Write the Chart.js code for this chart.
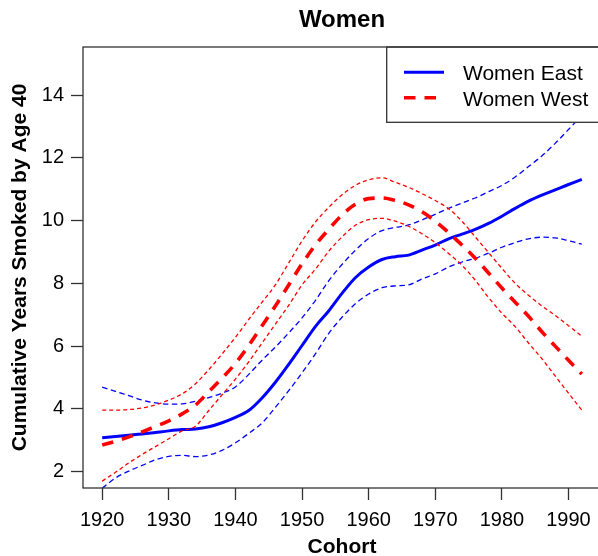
<!DOCTYPE html>
<html>
<head>
<meta charset="utf-8">
<script src="https://cdn.jsdelivr.net/npm/chart.js@4/dist/chart.umd.min.js"></script>
<style>
  html, body { margin: 0; padding: 0; background: #ffffff; overflow: hidden; }
  #wrap { width: 604px; height: 556px; }
</style>
</head>
<body>
<div id="wrap"><canvas id="c" width="604" height="556"></canvas></div>
<script>
// ---- data ----
const chartTitle = "Women";
const xAxisTitle = "Cohort";
const yAxisTitle = "Cumulative Years Smoked by Age 40";
const seriesLabels = ["Women East", "Women West"];
const xTickValues = [1920, 1930, 1940, 1950, 1960, 1970, 1980, 1990];
const yTickValues = [2, 4, 6, 8, 10, 12, 14];

const years = [1920,1922,1924,1926,1928,1930,1932,1934,1936,1938,1940,1942,1944,1946,1948,1950,1952,1954,1956,1958,1960,1962,1964,1966,1968,1970,1972,1974,1976,1978,1980,1982,1984,1986,1988,1990,1992];

const eastMain  = [3.08,3.12,3.16,3.20,3.25,3.30,3.34,3.36,3.43,3.56,3.73,3.95,4.35,4.85,5.42,6.02,6.62,7.12,7.68,8.18,8.52,8.76,8.85,8.90,9.06,9.22,9.42,9.57,9.72,9.91,10.14,10.39,10.62,10.81,10.98,11.15,11.31];
const eastLower = [1.47,1.80,2.02,2.20,2.38,2.49,2.52,2.48,2.53,2.68,2.92,3.22,3.55,4.05,4.58,5.15,5.75,6.40,6.92,7.35,7.66,7.86,7.92,7.95,8.14,8.30,8.52,8.68,8.80,8.96,9.15,9.30,9.42,9.47,9.45,9.36,9.25];
const eastUpper = [4.69,4.56,4.42,4.28,4.19,4.15,4.16,4.24,4.36,4.50,4.70,5.10,5.55,5.97,6.42,6.90,7.45,8.08,8.60,9.05,9.43,9.68,9.78,9.86,10.02,10.20,10.39,10.56,10.72,10.92,11.12,11.39,11.72,12.06,12.46,12.90,13.35];

const westMain  = [2.85,2.97,3.11,3.27,3.44,3.62,3.84,4.12,4.55,4.98,5.45,6.02,6.65,7.28,7.95,8.62,9.22,9.72,10.18,10.52,10.70,10.72,10.64,10.50,10.28,9.98,9.62,9.22,8.80,8.33,7.85,7.40,6.95,6.46,6.00,5.55,5.11];
const westLower = [1.70,1.98,2.28,2.55,2.80,3.05,3.30,3.45,3.95,4.45,4.95,5.50,6.10,6.70,7.30,7.95,8.45,9.02,9.48,9.85,10.03,10.07,9.98,9.82,9.58,9.30,8.95,8.58,8.10,7.55,7.05,6.62,6.10,5.60,5.05,4.50,3.96];
const westUpper = [3.96,3.96,3.98,4.03,4.13,4.28,4.48,4.80,5.25,5.75,6.28,6.85,7.40,7.95,8.65,9.35,9.95,10.42,10.82,11.12,11.30,11.36,11.22,11.06,10.86,10.64,10.38,9.98,9.48,8.98,8.48,8.00,7.62,7.28,6.98,6.65,6.32];

// ---- styling ----
const FONT = "'Liberation Sans', Arial, Helvetica, sans-serif";
const BLUE = "#0000ff";
const RED = "#ff0000";
const AXIS = "#333333";

function pts(vals) { return years.map((x, i) => ({ x: x, y: vals[i] })); }

function ds(label, vals, color, width, dash, order, inLegend) {
  return {
    label: label, data: pts(vals), borderColor: color, backgroundColor: color,
    borderWidth: width, borderDash: dash, pointRadius: 0, pointHoverRadius: 0,
    fill: false, cubicInterpolationMode: 'monotone', order: order,
    showInLegend: inLegend, borderCapStyle: 'butt'
  };
}

const datasets = [
  ds(seriesLabels[1], westMain, RED, 3.6, [11.5, 9], 0, true),
  ds(seriesLabels[1] + " upper", westUpper, RED, 1.3, [4, 3], 1, false),
  ds(seriesLabels[1] + " lower", westLower, RED, 1.3, [4, 3], 1, false),
  ds(seriesLabels[0], eastMain, BLUE, 3.0, [], 2, true),
  ds(seriesLabels[0] + " upper", eastUpper, BLUE, 1.3, [5.5, 3.5], 3, false),
  ds(seriesLabels[0] + " lower", eastLower, BLUE, 1.3, [5.5, 3.5], 3, false)
];

const frameAndLegend = {
  id: 'frameAndLegend',
  afterDatasetsDraw(chart) {
    const ctx = chart.ctx;
    const a = chart.chartArea;
    ctx.save();
    // legend box (white fill, drawn over the curves)
    const lx = 386.7, ly = a.top, lw = a.right - 386.7, lh = 122.3 - a.top;
    ctx.fillStyle = '#ffffff';
    ctx.fillRect(lx, ly, lw, lh);
    ctx.strokeStyle = AXIS;
    ctx.lineWidth = 1.3;
    ctx.setLineDash([]);
    ctx.strokeRect(lx, ly, lw, lh);
    const items = [datasets[3], datasets[0]];
    const rows = [72.3, 97.7];
    items.forEach((d, i) => {
      ctx.beginPath();
      ctx.strokeStyle = d.borderColor;
      ctx.lineWidth = d.borderWidth;
      ctx.setLineDash(d.borderDash || []);
      ctx.lineCap = 'butt';
      ctx.moveTo(404, rows[i]);
      ctx.lineTo(444, rows[i]);
      ctx.stroke();
      ctx.setLineDash([]);
      ctx.fillStyle = '#000000';
      ctx.font = "21px " + FONT;
      ctx.textAlign = 'left';
      ctx.textBaseline = 'alphabetic';
      ctx.fillText(d.label, 463, rows[i] + 7.8);
    });
    // plot frame
    ctx.strokeStyle = AXIS;
    ctx.lineWidth = 1.3;
    ctx.strokeRect(a.left, a.top, a.right - a.left, a.bottom - a.top);
    // title
    ctx.fillStyle = '#000000';
    ctx.font = "bold 24px " + FONT;
    ctx.textAlign = 'center';
    ctx.textBaseline = 'middle';
    ctx.fillText(chartTitle, (a.left + a.right) / 2, 20.5);
    ctx.restore();
  }
};

new Chart(document.getElementById('c'), {
  type: 'line',
  data: { datasets: datasets },
  plugins: [frameAndLegend],
  options: {
    responsive: false,
    animation: false,
    devicePixelRatio: 1,
    events: [],
    layout: { padding: { left: 0, right: 3, top: 47, bottom: 0 } },
    plugins: { legend: { display: false }, title: { display: false }, tooltip: { enabled: false } },
    scales: {
      x: {
        type: 'linear', position: 'bottom', min: 1917.12, max: 1994.88,
        afterBuildTicks: s => { s.ticks = xTickValues.map(v => ({ value: v })); },
        afterFit: s => { s.height = 68; },
        border: { display: false },
        grid: { display: true, drawOnChartArea: false, drawTicks: true, tickLength: 12, tickColor: AXIS, tickWidth: 1.3 },
        ticks: { color: '#000', font: { family: FONT, size: 20, lineHeight: 1.2 }, padding: 8, maxRotation: 0, autoSkip: false, callback: v => String(v) },
        title: { display: true, text: xAxisTitle, color: '#000', font: { family: FONT, size: 21, weight: 'bold', lineHeight: 0.8 }, padding: { top: 0, bottom: 0 } }
      },
      y: {
        type: 'linear', position: 'left', min: 1.48, max: 15.53,
        afterBuildTicks: s => { s.ticks = yTickValues.map(v => ({ value: v })); },
        afterFit: s => { s.width = 83; },
        border: { display: false },
        grid: { display: true, drawOnChartArea: false, drawTicks: true, tickLength: 12, tickColor: AXIS, tickWidth: 1.3 },
        ticks: { color: '#000', font: { family: FONT, size: 20, lineHeight: 1.2 }, padding: 7, autoSkip: false, callback: v => String(v) },
        title: { display: true, text: yAxisTitle, color: '#000', font: { family: FONT, size: 21, weight: 'bold', lineHeight: 1 }, padding: { top: 10, bottom: 0 } }
      }
    }
  }
});
</script>
</body>
</html>
